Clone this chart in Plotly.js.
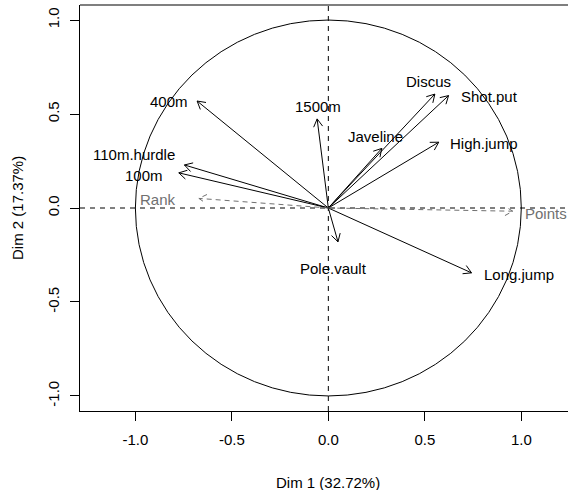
<!DOCTYPE html>
<html>
<head>
<meta charset="utf-8">
<script src="https://cdn.plot.ly/plotly-3.0.1.min.js"></script>
<style>
html,body{margin:0;padding:0;overflow:hidden;background:#fff;}
#chart{width:568px;height:490px;}
</style>
</head>
<body>
<div id="chart"></div>
<script>
// ---- data ----
const variables = ['100m','Long.jump','Shot.put','High.jump','400m','110m.hurdle','Discus','Pole.vault','Javeline','1500m'];
const dim1 = [-0.775, 0.742, 0.623, 0.572, -0.680, -0.746, 0.552, 0.050, 0.277, -0.058];
const dim2 = [0.187, -0.345, 0.598, 0.350, 0.569, 0.229, 0.606, -0.180, 0.317, 0.474];
const supVariables = ['Rank','Points'];
const supDim1 = [-0.671, 0.956];
const supDim2 = [0.051, -0.017];
const xTickVals = [-1.0, -0.5, 0.0, 0.5, 1.0];
const xTickText = ['-1.0','-0.5','0.0','0.5','1.0'];
const yTickVals = [-1.0, -0.5, 0.0, 0.5, 1.0];
const yTickText = ['-1.0','-0.5','0.0','0.5','1.0'];
const xTitle = 'Dim 1 (32.72%)';
const yTitle = 'Dim 2 (17.37%)';

// ---- label placement (pixels relative to arrow tip) ----
const labelPlace = {
  '100m':        ['right', -14, 2.7],
  '110m.hurdle': ['right', -7, -10],
  '400m':        ['right', -6.7, 0.7],
  'Rank':        ['right', -21, 0.7],
  '1500m':       ['center', 0.8, -12.6],
  'Javeline':    ['center', -6, -12.3],
  'Discus':      ['center', -6.6, -12.3],
  'Shot.put':    ['left', 10, 1.2],
  'High.jump':   ['left', 9.6, 1.3],
  'Points':      ['left', 9.8, 2.4],
  'Long.jump':   ['left', 10, 1.5],
  'Pole.vault':  ['center', -4, 26.8]
};

const W = 568, H = 490;
const margin = {l: 80, r: 0, t: 5, b: 79};
const xRange = [-1.287, 1.242];
const yRange = [-1.08, 1.08];
const sx = (W - margin.l - margin.r) / (xRange[1] - xRange[0]);
const sy = (H - margin.t - margin.b) / (yRange[1] - yRange[0]);
const headLen = 9, headAng = Math.PI / 6;
const FONT = 'Liberation Sans, Arial, Helvetica, sans-serif';
const GREY = '#707070';

function arrowPath(xs, ys) {
  const X = [], Y = [];
  for (let i = 0; i < xs.length; i++) {
    const x = xs[i], y = ys[i];
    const dir = Math.atan2(y * sy, x * sx);
    const a1 = dir + headAng, a2 = dir - headAng;
    X.push(0, x, null,
           x - headLen * Math.cos(a1) / sx, x, x - headLen * Math.cos(a2) / sx, null);
    Y.push(0, y, null,
           y - headLen * Math.sin(a1) / sy, y, y - headLen * Math.sin(a2) / sy, null);
  }
  return {X, Y};
}

const act = arrowPath(dim1, dim2);
const sup = arrowPath(supDim1, supDim2);

const traces = [
  {x: act.X, y: act.Y, type: 'scatter', mode: 'lines',
   line: {color: '#000', width: 1}, hoverinfo: 'skip'},
  {x: sup.X, y: sup.Y, type: 'scatter', mode: 'lines',
   line: {color: GREY, width: 1, dash: '5px,4px'}, hoverinfo: 'skip'}
];

const annotations = [];
function addLabels(names, xs, ys, color) {
  names.forEach((n, i) => {
    const p = labelPlace[n];
    annotations.push({
      x: xs[i], y: ys[i], xref: 'x', yref: 'y', text: n, showarrow: false,
      xanchor: p[0], yanchor: 'middle', xshift: p[1], yshift: -p[2],
      font: {family: FONT, size: 15, color: color}
    });
  });
}
addLabels(variables, dim1, dim2, '#000');
addLabels(supVariables, supDim1, supDim2, GREY);

annotations.push({
  x: 0, xref: 'x', y: 0, yref: 'paper', yanchor: 'middle', yshift: -71,
  text: xTitle, showarrow: false, borderpad: 0,
  font: {family: FONT, size: 15, color: '#000'}
});
annotations.push({
  x: 0, xref: 'paper', xanchor: 'center', xshift: -63, y: 0, yref: 'y',
  text: yTitle, textangle: -90, showarrow: false, borderpad: 0,
  font: {family: FONT, size: 15, color: '#000'}
});

const shapes = [
  {type: 'circle', xref: 'x', yref: 'y', x0: -1, x1: 1, y0: -1, y1: 1,
   line: {color: '#000', width: 1}, layer: 'below'},
  {type: 'line', xref: 'paper', yref: 'y', x0: 0, x1: 1, y0: 0, y1: 0,
   line: {color: '#000', width: 1, dash: '5px,5px'}, layer: 'below'},
  {type: 'line', xref: 'x', yref: 'paper', x0: 0, x1: 0, y0: 0, y1: 1,
   line: {color: '#000', width: 1, dash: '5px,5px'}, layer: 'below'},
  {type: 'line', xref: 'paper', yref: 'paper', x0: 0, x1: 1, y0: 1, y1: 1,
   line: {color: '#000', width: 1.2}}
];

const layout = {
  width: W, height: H, margin: margin,
  paper_bgcolor: '#fff', plot_bgcolor: '#fff',
  showlegend: false, hovermode: false,
  font: {family: FONT, size: 15, color: '#000'},
  xaxis: {range: xRange, showgrid: false, zeroline: false,
          showline: true, linecolor: '#000', linewidth: 1.2,
          ticks: 'outside', ticklen: 9, tickwidth: 1, tickcolor: '#000',
          tickvals: xTickVals, ticktext: xTickText, ticklabelstandoff: 6,
          tickfont: {family: FONT, size: 15, color: '#000'}},
  yaxis: {range: yRange, showgrid: false, zeroline: false,
          showline: true, linecolor: '#000', linewidth: 1.2,
          ticks: 'outside', ticklen: 9, tickwidth: 1, tickcolor: '#000',
          tickvals: yTickVals, ticktext: yTickText, tickangle: -90,
          ticklabelstandoff: 5,
          tickfont: {family: FONT, size: 15, color: '#000'}},
  shapes: shapes, annotations: annotations
};

Plotly.newPlot('chart', traces, layout, {displayModeBar: false, staticPlot: true});
</script>
</body>
</html>
